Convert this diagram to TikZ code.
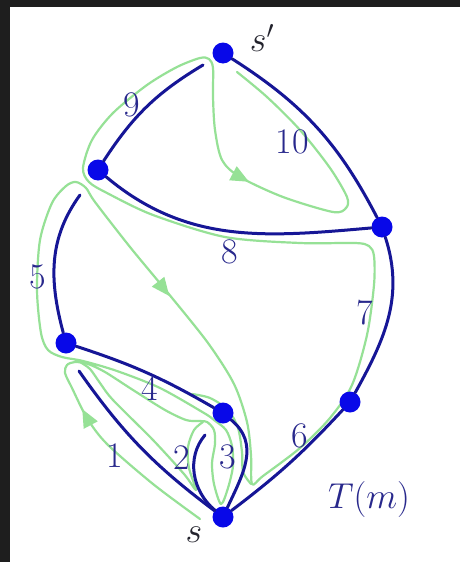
\RequirePackage{fix-cm}
\documentclass[tikz,border=0pt]{standalone}
\definecolor{bgdark}{RGB}{30,30,30}
\definecolor{nodeblue}{RGB}{8,8,232}
\definecolor{edgeblue}{RGB}{22,22,150}
\definecolor{tourgreen}{RGB}{150,225,150}
\definecolor{lblblue}{RGB}{40,40,140}
\definecolor{lbldark}{RGB}{35,35,45}
\begin{document}
\begin{tikzpicture}[x=1pt,y=-1pt,
  vtx/.style={circle,fill=nodeblue,minimum size=21pt,inner sep=0pt},
  tedge/.style={draw=edgeblue,line width=3pt,line cap=round},
  tour/.style={draw=tourgreen,line width=2.2pt,line cap=round,line join=round},
  tip/.style={fill=tourgreen},
  lbl/.style={text=lblblue,font=\fontsize{36}{42}\selectfont,inner sep=0pt},
  slbl/.style={text=lbldark,font=\fontsize{36}{42}\selectfont,inner sep=0pt}]
\useasboundingbox (0,0) rectangle (460,562);
\fill[bgdark] (0,0) rectangle (460,562);
\fill[white] (10,7) rectangle (460,562);

% green tour
\draw[tour] plot[smooth,tension=0.5] coordinates {
 (200,519) (153,484) (107,444) (87,418) (72,388) (65,373) (67,365)
 (75,362) (88,364) (105,372) (133,390) (165,410) (186,420) (198,421) (207,422)
 (214,430) (215,444) (212,463) (214,484) (221,504)
 (228,488) (233,466) (232,446) (226,430) (214,420) (204,413) (160,388) (117,371) (83,361)
 (62,357) (48,350) (41,333) (37,290) (40,240) (52,203) (66,186) (76,182) (86,188)
 (95,202) (130,247) (168,293) (208,343) (234,384) (247,422) (251,455) (252,484)
 (263,476) (300,448) (330,418) (352,385) (367,335) (374,285) (374,256) (369,246)
 (355,243) (300,243) (225,237) (153,215) (107,193) (89,182) (83,168) (92,140)
 (113,113) (147,85) (177,67) (200,58) (209,59) (213,68) (213,97) (215,130)
 (222,160) (240,177) (283,197) (333,212) (346,208) (347,197) (330,168) (300,130)
 (267,97) (237,72)};
\draw[tour] plot[smooth,tension=0.5] coordinates {
 (80,362) (90,369) (100,383) (113,400) (153,440) (184,474) (196,490)
 (189,468) (188,447) (194,430) (203,422)};
\draw[tour] plot[smooth,tension=0.5] coordinates {
 (192,394) (210,398) (228,410) (238,428) (242,452) (243,472) (251,484)};
% arrow tips
\fill[tip,shift={(87,418)},rotate=118] (10,0) -- (-8,8) -- (-8,-8) -- cycle;
\fill[tip,shift={(163,288)},rotate=-52] (10,0) -- (-8,8) -- (-8,-8) -- cycle;
\fill[tip,shift={(240,177)},rotate=-28] (10,0) -- (-8,8) -- (-8,-8) -- cycle;

% vertices
\node[vtx] (sp) at (223,53) {};
\node[vtx] (L1) at (98,170) {};
\node[vtx] (R)  at (382,227) {};
\node[vtx] (L2) at (66,343) {};
\node[vtx] (M)  at (223,413) {};
\node[vtx] (s)  at (223,517) {};
\node[vtx] (R2) at (350,402) {};
\coordinate (e9) at (203,65);
\coordinate (e5) at (80,195);
\coordinate (e1) at (79,371);
\coordinate (e2) at (205,435);

% tree edges
\draw[tedge] (sp) to[bend left=15] (R);
\draw[tedge] (e9) to[bend right=13] (L1);
\draw[tedge] (L1) to[out=-40,in=185] (R);
\draw[tedge] (e5) to[out=-126,in=105] (L2);
\draw[tedge] (L2) to[bend left=6] (M);
\draw[tedge] (M) to[out=-40,in=65,looseness=1.1] (s);
\draw[tedge] (s) to[out=140,in=-130] (e2);
\draw[tedge] (s) to[bend left=9] (e1);
\draw[tedge] (s) to[bend right=5] (R2);
\draw[tedge] (R2) to[out=61,in=-72] (R);

% labels
\node[lbl] (l9) at (132,105) {9};
\node[lbl] (l10) at (292,142) {10};
\node[lbl] (l8) at (230,252) {8};
\node[lbl] (l5) at (38,277) {5};
\node[lbl] (l7) at (365,313) {7};
\node[lbl] (l4) at (150,388) {4};
\node[lbl] (l6) at (300,436) {6};
\node[lbl] (l1) at (115,456) {1};
\node[lbl] (l2) at (182,458) {2};
\node[lbl] (l3) at (228,457) {3};
\node[lbl] (lT) at (369,499) {$T(m)$};
\node[slbl] (ls) at (194,535) {$s$};
\node[slbl] (lsp) at (262,38) {$s'$};
\end{tikzpicture}
\end{document}
